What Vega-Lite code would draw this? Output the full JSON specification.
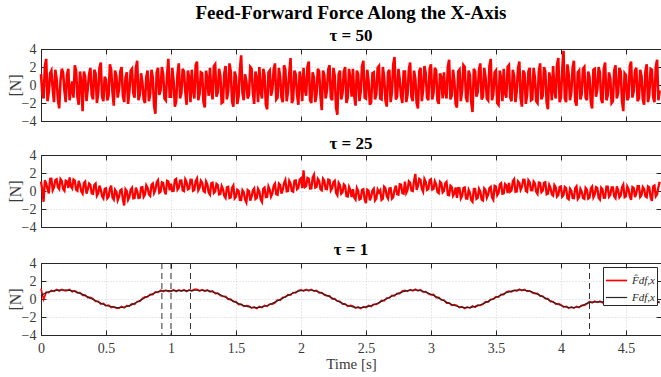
{
"$schema":"https://vega.github.io/schema/vega-lite/v6.json",
"background":"white",
"padding":{"left":6,"top":3,"right":0,"bottom":4},
"spacing":5,
"resolve":{"scale":{"color":"independent","strokeWidth":"independent"},"legend":{"color":"independent","strokeWidth":"independent"}},
"config":{
 "font":"Liberation Serif",
 "view":{"stroke":"#262626","strokeWidth":1},
 "axis":{"labelFont":"Liberation Serif","labelFontSize":14,"labelColor":"#3a3a3a","titleFont":"Liberation Serif","titleFontSize":15,"titleFontWeight":"normal","titleColor":"#3a3a3a","domainColor":"#262626","tickColor":"#262626","tickSize":-5,"gridColor":"#d0d0d0","gridDash":[1,2],"minExtent":0,"labelFlush":false},
 "axisX":{"labelPadding":11,"format":"~g"},
 "axisY":{"labelPadding":10,"titleFontSize":16,"titlePadding":-2},
 "title":{"font":"Liberation Serif","fontSize":17,"fontWeight":"bold","color":"black","offset":-3},
 "legend":{"labelFont":"Liberation Serif","labelFontStyle":"italic","labelFontSize":11,"labelColor":"#262626"}
},
"datasets":{
"ev":[{"t":0.93},{"t":1.0},{"t":1.15},{"t":4.22}],
"n":[
{"t":0,"a":1.2,"b":1.05},{"t":0.01,"a":-0.9,"b":0.07},{"t":0.02,"a":-1.5,"b":-1.2},{"t":0.03,"a":2.1,"b":1.2},{"t":0.04,"a":2.9,"b":0.81},{"t":0.05,"a":-1.8,"b":0.23},{"t":0.06,"a":-0.8,"b":-0.26},{"t":0.07,"a":1.3,"b":1.36},{"t":0.08,"a":1.6,"b":1.37},{"t":0.09,"a":-0.4,"b":0.09},{"t":0.1,"a":-1.9,"b":0.4},{"t":0.11,"a":1.7,"b":1.21},{"t":0.12,"a":0.7,"b":1.31},{"t":0.13,"a":-1.6,"b":0.42},{"t":0.14,"a":-2.6,"b":0.22},{"t":0.15,"a":0.5,"b":1.33},{"t":0.16,"a":1.8,"b":1.13},{"t":0.17,"a":1.4,"b":0.24},{"t":0.18,"a":-0.6,"b":0.04},{"t":0.19,"a":-1.9,"b":1.15},
{"t":0.2,"a":1.1,"b":1.05},{"t":0.21,"a":1.8,"b":0.34},{"t":0.22,"a":-1.7,"b":1.52},{"t":0.23,"a":-0.6,"b":0.51},{"t":0.24,"a":0.4,"b":0.29},{"t":0.25,"a":-1.4,"b":1.28},{"t":0.26,"a":2.2,"b":1.16},{"t":0.27,"a":1.6,"b":0.15},{"t":0.28,"a":-1.3,"b":0.03},{"t":0.29,"a":-2.2,"b":1.12},{"t":0.3,"a":1.5,"b":0.7},{"t":0.31,"a":0.3,"b":-0.04},{"t":0.32,"a":-2.9,"b":-0.28},{"t":0.33,"a":1.5,"b":0.88},{"t":0.34,"a":0.9,"b":1.04},{"t":0.35,"a":-1.8,"b":-0.3},{"t":0.36,"a":-0.4,"b":0.16},{"t":0.37,"a":1.2,"b":0.82},{"t":0.38,"a":1.9,"b":0.68},{"t":0.39,"a":-1.1,"b":-0.26},
{"t":0.4,"a":-1.6,"b":-0.3},{"t":0.41,"a":1.7,"b":0.66},{"t":0.42,"a":1.3,"b":0.82},{"t":0.43,"a":-2.0,"b":-0.52},{"t":0.44,"a":-0.9,"b":-0.26},{"t":0.45,"a":1.9,"b":0.6},{"t":0.46,"a":2.5,"b":0.16},{"t":0.47,"a":-1.3,"b":-0.58},{"t":0.48,"a":-1.8,"b":-0.82},{"t":0.49,"a":0.9,"b":0.24},{"t":0.5,"a":0.6,"b":0.3},{"t":0.51,"a":-1.7,"b":-0.83},{"t":0.52,"a":-1.2,"b":-0.65},{"t":0.53,"a":2.3,"b":0.23},{"t":0.54,"a":1.7,"b":0.6},{"t":0.55,"a":-0.8,"b":-0.73},{"t":0.56,"a":-2.3,"b":-0.95},{"t":0.57,"a":1.6,"b":0.13},{"t":0.58,"a":1.0,"b":-0.1},{"t":0.59,"a":-1.4,"b":-1.03},
{"t":0.6,"a":-0.5,"b":-0.65},{"t":0.61,"a":1.5,"b":0.06},{"t":0.62,"a":2.0,"b":0.17},{"t":0.63,"a":-1.2,"b":-0.92},{"t":0.64,"a":-1.9,"b":-1.6},{"t":0.65,"a":0.8,"b":0.2},{"t":0.66,"a":1.4,"b":0.01},{"t":0.67,"a":-2.1,"b":-0.98},{"t":0.68,"a":-0.7,"b":-0.67},{"t":0.69,"a":1.6,"b":0.14},{"t":0.7,"a":1.8,"b":0.35},{"t":0.71,"a":-0.9,"b":-0.82},{"t":0.72,"a":-1.4,"b":-0.78},{"t":0.73,"a":1.9,"b":0.36},{"t":0.74,"a":2.7,"b":-0.01},{"t":0.75,"a":-1.7,"b":-0.78},{"t":0.76,"a":-1.1,"b":-0.74},{"t":0.77,"a":1.3,"b":0.4},{"t":0.78,"a":0.3,"b":0.43},{"t":0.79,"a":-1.6,"b":-0.64},
{"t":0.8,"a":-2.0,"b":-0.4},{"t":0.81,"a":0.9,"b":0.64},{"t":0.82,"a":1.6,"b":0.38},{"t":0.83,"a":-1.8,"b":-0.38},{"t":0.84,"a":-1.0,"b":-0.54},{"t":0.85,"a":1.7,"b":0.7},{"t":0.86,"a":0.8,"b":0.84},{"t":0.87,"a":-2.3,"b":-0.22},{"t":0.88,"a":-3.2,"b":0.12},{"t":0.89,"a":1.4,"b":0.96},{"t":0.9,"a":1.9,"b":1.2},{"t":0.91,"a":-1.1,"b":-0.18},{"t":0.92,"a":-0.6,"b":-0.06},{"t":0.93,"a":2.0,"b":0.96},{"t":0.94,"a":1.2,"b":0.88},{"t":0.95,"a":-1.5,"b":0.0},{"t":0.96,"a":-1.7,"b":-0.38},{"t":0.97,"a":1.1,"b":1.14},{"t":0.98,"a":2.9,"b":1.06},{"t":0.99,"a":-1.3,"b":0.08},
{"t":1.0,"a":-1.3,"b":0.8},{"t":1.01,"a":1.9,"b":0.01},{"t":1.02,"a":0.5,"b":0.02},{"t":1.03,"a":-2.4,"b":1.23},{"t":1.04,"a":-1.8,"b":1.34},{"t":1.05,"a":1.2,"b":0.15},{"t":1.06,"a":2.4,"b":0.36},{"t":1.07,"a":-1.5,"b":1.17},{"t":1.08,"a":-0.9,"b":1.18},{"t":1.09,"a":1.8,"b":0.09},{"t":1.1,"a":1.5,"b":0.0},{"t":1.11,"a":-0.7,"b":1.29},{"t":1.12,"a":-2.2,"b":0.98},{"t":1.13,"a":1.6,"b":0.17},{"t":1.14,"a":0.8,"b":0.26},{"t":1.15,"a":-1.9,"b":1.25},{"t":1.16,"a":1.7,"b":1.24},{"t":1.17,"a":-0.5,"b":0.03},{"t":1.18,"a":-1.5,"b":0.12},{"t":1.19,"a":2.2,"b":1.11},
{"t":1.2,"a":2.6,"b":1.4},{"t":1.21,"a":-1.7,"b":0.08},{"t":1.22,"a":-1.0,"b":0.36},{"t":1.23,"a":1.4,"b":1.14},{"t":1.24,"a":1.3,"b":0.92},{"t":1.25,"a":-1.9,"b":0.0},{"t":1.26,"a":-2.5,"b":-0.12},{"t":1.27,"a":1.6,"b":1.06},{"t":1.28,"a":0.6,"b":0.74},{"t":1.29,"a":-1.2,"b":-0.18},{"t":1.3,"a":1.9,"b":-0.4},{"t":1.31,"a":-0.6,"b":0.86},{"t":1.32,"a":-1.6,"b":0.92},{"t":1.33,"a":2.1,"b":-0.22},{"t":1.34,"a":2.3,"b":-0.06},{"t":1.35,"a":-1.3,"b":0.8},{"t":1.36,"a":-0.8,"b":0.66},{"t":1.37,"a":1.8,"b":-0.38},{"t":1.38,"a":1.0,"b":-0.32},{"t":1.39,"a":-2.0,"b":0.54},
{"t":1.4,"a":-1.9,"b":0.2},{"t":1.41,"a":1.3,"b":-0.54},{"t":1.42,"a":2.1,"b":-0.77},{"t":1.43,"a":-1.6,"b":0.4},{"t":1.44,"a":-0.7,"b":0.46},{"t":1.45,"a":2.4,"b":-0.78},{"t":1.46,"a":1.5,"b":-0.71},{"t":1.47,"a":-1.8,"b":0.36},{"t":1.48,"a":-2.4,"b":0.62},{"t":1.49,"a":1.5,"b":-0.82},{"t":1.5,"a":0.9,"b":-0.65},{"t":1.51,"a":-2.1,"b":0.14},{"t":1.52,"a":-1.3,"b":0.02},{"t":1.53,"a":1.7,"b":-1.0},{"t":1.54,"a":3.3,"b":-1.01},{"t":1.55,"a":-0.9,"b":0.08},{"t":1.56,"a":-1.7,"b":-0.14},{"t":1.57,"a":1.2,"b":-0.96},{"t":1.58,"a":0.4,"b":-1.27},{"t":1.59,"a":-1.5,"b":0.12},
{"t":1.6,"a":-1.1,"b":0.0},{"t":1.61,"a":2.0,"b":-1.08},{"t":1.62,"a":1.8,"b":-0.66},{"t":1.63,"a":-0.8,"b":0.06},{"t":1.64,"a":-2.1,"b":0.28},{"t":1.65,"a":1.5,"b":-0.9},{"t":1.66,"a":0.7,"b":-0.78},{"t":1.67,"a":-1.9,"b":0.24},{"t":1.68,"a":2.0,"b":-0.04},{"t":1.69,"a":-0.7,"b":-0.92},{"t":1.7,"a":-1.5,"b":-1.2},{"t":1.71,"a":1.8,"b":0.24},{"t":1.72,"a":1.1,"b":0.38},{"t":1.73,"a":-2.2,"b":-0.68},{"t":1.74,"a":-2.7,"b":-0.64},{"t":1.75,"a":1.4,"b":0.5},{"t":1.76,"a":1.6,"b":0.14},{"t":1.77,"a":-1.2,"b":-0.62},{"t":1.78,"a":-0.5,"b":-0.28},{"t":1.79,"a":1.7,"b":0.56},
{"t":1.8,"a":2.4,"b":0.8},{"t":1.81,"a":-1.6,"b":-0.36},{"t":1.82,"a":-1.4,"b":-0.42},{"t":1.83,"a":1.9,"b":0.82},{"t":1.84,"a":0.9,"b":0.66},{"t":1.85,"a":-1.4,"b":-0.3},{"t":1.86,"a":-1.9,"b":0.14},{"t":1.87,"a":2.2,"b":0.88},{"t":1.88,"a":1.7,"b":1.22},{"t":1.89,"a":-1.8,"b":-0.04},{"t":1.9,"a":-0.8,"b":0.0},{"t":1.91,"a":1.3,"b":1.13},{"t":1.92,"a":3.0,"b":0.86},{"t":1.93,"a":-2.0,"b":-0.01},{"t":1.94,"a":-1.6,"b":-0.08},{"t":1.95,"a":1.6,"b":1.15},{"t":1.96,"a":1.2,"b":1.18},{"t":1.97,"a":-1.1,"b":0.21},{"t":1.98,"a":-2.2,"b":0.34},{"t":1.99,"a":1.5,"b":1.27},
{"t":2.0,"a":0.6,"b":1.4},{"t":2.01,"a":-1.8,"b":0.31},{"t":2.02,"a":1.9,"b":2.3},{"t":2.03,"a":-0.5,"b":0.43},{"t":2.04,"a":-1.2,"b":0.54},{"t":2.05,"a":2.0,"b":1.45},{"t":2.06,"a":2.6,"b":1.36},{"t":2.07,"a":-1.7,"b":0.27},{"t":2.08,"a":-2.0,"b":0.28},{"t":2.09,"a":1.4,"b":1.49},{"t":2.1,"a":0.8,"b":1.8},{"t":2.11,"a":-1.9,"b":0.38},{"t":2.12,"a":-1.0,"b":0.46},{"t":2.13,"a":1.8,"b":1.34},{"t":2.14,"a":1.5,"b":1.12},{"t":2.15,"a":-1.2,"b":0.2},{"t":2.16,"a":-2.8,"b":0.08},{"t":2.17,"a":1.6,"b":1.36},{"t":2.18,"a":1.1,"b":1.14},{"t":2.19,"a":-1.5,"b":0.22},
{"t":2.2,"a":-0.6,"b":0.2},{"t":2.21,"a":1.7,"b":1.26},{"t":2.22,"a":2.2,"b":1.21},{"t":2.23,"a":-1.4,"b":0.07},{"t":2.24,"a":-1.7,"b":0.32},{"t":2.25,"a":1.9,"b":0.98},{"t":2.26,"a":1.0,"b":1.13},{"t":2.27,"a":-2.5,"b":-0.22},{"t":2.28,"a":-3.3,"b":-0.46},{"t":2.29,"a":1.2,"b":0.9},{"t":2.3,"a":1.6,"b":0.65},{"t":2.31,"a":-1.6,"b":-0.3},{"t":2.32,"a":-0.9,"b":-0.14},{"t":2.33,"a":1.5,"b":0.72},{"t":2.34,"a":2.0,"b":0.57},{"t":2.35,"a":-2.0,"b":-0.58},{"t":2.36,"a":-1.4,"b":-0.62},{"t":2.37,"a":1.8,"b":0.44},{"t":2.38,"a":0.7,"b":0.09},{"t":2.39,"a":-1.3,"b":-0.66},
{"t":2.4,"a":1.8,"b":0.2},{"t":2.41,"a":-1.2,"b":-0.73},{"t":2.42,"a":-2.3,"b":-0.95},{"t":2.43,"a":1.6,"b":0.33},{"t":2.44,"a":1.2,"b":0.0},{"t":2.45,"a":-1.8,"b":-0.93},{"t":2.46,"a":-0.7,"b":-0.85},{"t":2.47,"a":2.1,"b":0.13},{"t":2.48,"a":2.7,"b":0.2},{"t":2.49,"a":-1.4,"b":-0.93},{"t":2.5,"a":-1.5,"b":-1.35},{"t":2.51,"a":1.7,"b":0.15},{"t":2.52,"a":0.5,"b":0.05},{"t":2.53,"a":-2.2,"b":-1.05},{"t":2.54,"a":-1.9,"b":-0.65},{"t":2.55,"a":1.3,"b":0.05},{"t":2.56,"a":1.4,"b":0.25},{"t":2.57,"a":-1.6,"b":-1.05},{"t":2.58,"a":-1.0,"b":-0.85},{"t":2.59,"a":1.9,"b":0.15},
{"t":2.6,"a":2.1,"b":-0.15},{"t":2.61,"a":-1.5,"b":0.08},{"t":2.62,"a":-1.6,"b":-0.99},{"t":2.63,"a":2.0,"b":-0.86},{"t":2.64,"a":0.9,"b":0.47},{"t":2.65,"a":-1.7,"b":0.3},{"t":2.66,"a":-2.4,"b":-0.57},{"t":2.67,"a":1.4,"b":-0.84},{"t":2.68,"a":1.7,"b":0.29},{"t":2.69,"a":-1.9,"b":0.32},{"t":2.7,"a":-0.8,"b":-0.85},{"t":2.71,"a":2.3,"b":-0.7},{"t":2.72,"a":3.1,"b":0.15},{"t":2.73,"a":-1.6,"b":0.6},{"t":2.74,"a":-1.3,"b":-0.35},{"t":2.75,"a":1.8,"b":-0.4},{"t":2.76,"a":0.6,"b":0.75},{"t":2.77,"a":-1.2,"b":0.7},{"t":2.78,"a":-2.0,"b":-0.25},{"t":2.79,"a":1.5,"b":-0.3},
{"t":2.8,"a":1.5,"b":1.05},{"t":2.81,"a":-1.9,"b":-0.21},{"t":2.82,"a":-1.1,"b":0.13},{"t":2.83,"a":1.7,"b":1.07},{"t":2.84,"a":2.5,"b":0.91},{"t":2.85,"a":-1.3,"b":0.05},{"t":2.86,"a":-1.8,"b":-0.01},{"t":2.87,"a":1.6,"b":1.13},{"t":2.88,"a":0.7,"b":1.9},{"t":2.89,"a":-2.0,"b":0.11},{"t":2.9,"a":-2.6,"b":0.55},{"t":2.91,"a":1.5,"b":1.35},{"t":2.92,"a":1.9,"b":1.24},{"t":2.93,"a":-1.8,"b":0.24},{"t":2.94,"a":-0.5,"b":-0.07},{"t":2.95,"a":2.1,"b":1.33},{"t":2.96,"a":1.3,"b":1.02},{"t":2.97,"a":-1.4,"b":0.12},{"t":2.98,"a":-1.7,"b":0.21},{"t":2.99,"a":1.8,"b":1.21},
{"t":3.0,"a":2.3,"b":1.3},{"t":3.01,"a":-1.6,"b":0.16},{"t":3.02,"a":-0.9,"b":0.22},{"t":3.03,"a":1.9,"b":1.08},{"t":3.04,"a":1.6,"b":0.74},{"t":3.05,"a":-1.7,"b":-0.1},{"t":3.06,"a":-2.1,"b":-0.24},{"t":3.07,"a":1.3,"b":1.02},{"t":3.08,"a":0.8,"b":0.88},{"t":3.09,"a":-1.5,"b":-0.16},{"t":3.1,"a":1.4,"b":0.0},{"t":3.11,"a":-0.8,"b":0.86},{"t":3.12,"a":-1.5,"b":1.01},{"t":3.13,"a":2.0,"b":-0.44},{"t":3.14,"a":2.8,"b":-0.48},{"t":3.15,"a":-1.6,"b":0.58},{"t":3.16,"a":-1.2,"b":0.43},{"t":3.17,"a":1.7,"b":-0.52},{"t":3.18,"a":0.5,"b":-0.26},{"t":3.19,"a":-2.1,"b":0.4},
{"t":3.2,"a":-2.5,"b":-0.75},{"t":3.21,"a":1.5,"b":0.33},{"t":3.22,"a":1.7,"b":0.3},{"t":3.23,"a":-1.8,"b":-0.83},{"t":3.24,"a":-0.6,"b":-0.55},{"t":3.25,"a":2.2,"b":0.33},{"t":3.26,"a":2.0,"b":0.4},{"t":3.27,"a":-1.4,"b":-0.83},{"t":3.28,"a":-1.9,"b":-0.85},{"t":3.29,"a":1.6,"b":0.13},{"t":3.3,"a":1.1,"b":-0.2},{"t":3.31,"a":-1.9,"b":-1.0},{"t":3.32,"a":-3.0,"b":-1.19},{"t":3.33,"a":1.8,"b":0.22},{"t":3.34,"a":1.5,"b":0.22},{"t":3.35,"a":-1.3,"b":-0.88},{"t":3.36,"a":-0.8,"b":-0.77},{"t":3.37,"a":1.7,"b":0.24},{"t":3.38,"a":2.4,"b":-0.06},{"t":3.39,"a":-1.6,"b":-0.96},
{"t":3.4,"a":-1.3,"b":-1.05},{"t":3.41,"a":1.9,"b":0.29},{"t":3.42,"a":0.9,"b":0.12},{"t":3.43,"a":-1.5,"b":-0.75},{"t":3.44,"a":-1.7,"b":-0.41},{"t":3.45,"a":2.1,"b":0.33},{"t":3.46,"a":2.9,"b":0.46},{"t":3.47,"a":-1.7,"b":-0.71},{"t":3.48,"a":-1.0,"b":-0.97},{"t":3.49,"a":1.4,"b":0.57},{"t":3.5,"a":1.6,"b":0.5},{"t":3.51,"a":-2.0,"b":-0.46},{"t":3.52,"a":-2.2,"b":-0.22},{"t":3.53,"a":1.6,"b":0.72},{"t":3.54,"a":0.7,"b":0.86},{"t":3.55,"a":-1.8,"b":-0.3},{"t":3.56,"a":1.8,"b":-0.26},{"t":3.57,"a":-0.9,"b":0.78},{"t":3.58,"a":-1.4,"b":0.62},{"t":3.59,"a":2.0,"b":-0.24},
{"t":3.6,"a":2.2,"b":0.9},{"t":3.61,"a":-1.4,"b":-0.08},{"t":3.62,"a":-1.8,"b":0.05},{"t":3.63,"a":1.7,"b":1.08},{"t":3.64,"a":1.0,"b":1.3},{"t":3.65,"a":-1.9,"b":-0.08},{"t":3.66,"a":-0.7,"b":-0.05},{"t":3.67,"a":1.8,"b":1.08},{"t":3.68,"a":2.6,"b":0.9},{"t":3.69,"a":-1.5,"b":0.13},{"t":3.7,"a":-2.4,"b":0.45},{"t":3.71,"a":1.6,"b":1.24},{"t":3.72,"a":1.3,"b":1.23},{"t":3.73,"a":-2.1,"b":0.02},{"t":3.74,"a":-1.1,"b":-0.09},{"t":3.75,"a":1.5,"b":1.2},{"t":3.76,"a":1.9,"b":0.99},{"t":3.77,"a":-1.7,"b":0.08},{"t":3.78,"a":-1.6,"b":0.07},{"t":3.79,"a":1.9,"b":1.06},
{"t":3.8,"a":0.8,"b":0.85},{"t":3.81,"a":-1.8,"b":-0.09},{"t":3.82,"a":-2.0,"b":-0.32},{"t":3.83,"a":1.5,"b":0.95},{"t":3.84,"a":2.4,"b":0.91},{"t":3.85,"a":-1.6,"b":-0.13},{"t":3.86,"a":-1.2,"b":0.04},{"t":3.87,"a":2.0,"b":0.91},{"t":3.88,"a":1.5,"b":0.97},{"t":3.89,"a":-1.9,"b":-0.37},{"t":3.9,"a":-2.7,"b":-0.3},{"t":3.91,"a":1.4,"b":0.67},{"t":3.92,"a":0.6,"b":0.34},{"t":3.93,"a":-1.7,"b":-0.39},{"t":3.94,"a":2.1,"b":-0.52},{"t":3.95,"a":-0.6,"b":0.65},{"t":3.96,"a":-1.5,"b":0.42},{"t":3.97,"a":2.2,"b":-0.61},{"t":3.98,"a":3.0,"b":-0.44},{"t":3.99,"a":-1.9,"b":0.43},
{"t":4.0,"a":-1.4,"b":0.5},{"t":4.01,"a":1.6,"b":-0.62},{"t":4.02,"a":3.8,"b":-0.44},{"t":4.03,"a":-1.5,"b":0.44},{"t":4.04,"a":-1.9,"b":0.32},{"t":4.05,"a":2.3,"b":-0.8},{"t":4.06,"a":1.2,"b":-0.92},{"t":4.07,"a":-1.7,"b":0.26},{"t":4.08,"a":-0.8,"b":0.04},{"t":4.09,"a":1.9,"b":-0.78},{"t":4.1,"a":2.7,"b":-0.8},{"t":4.11,"a":-1.8,"b":0.31},{"t":4.12,"a":-2.3,"b":0.51},{"t":4.13,"a":1.4,"b":-0.89},{"t":4.14,"a":1.6,"b":-0.68},{"t":4.15,"a":-1.6,"b":0.23},{"t":4.16,"a":-1.0,"b":-0.07},{"t":4.17,"a":1.8,"b":-0.77},{"t":4.18,"a":2.0,"b":-0.86},{"t":4.19,"a":-1.4,"b":0.35},
{"t":4.2,"a":-1.7,"b":0.15},{"t":4.21,"a":1.5,"b":-0.84},{"t":4.22,"a":0.9,"b":-0.73},{"t":4.23,"a":-1.9,"b":0.28},{"t":4.24,"a":-2.6,"b":0.49},{"t":4.25,"a":1.7,"b":-0.7},{"t":4.26,"a":1.8,"b":-0.39},{"t":4.27,"a":-1.3,"b":0.42},{"t":4.28,"a":-0.5,"b":0.33},{"t":4.29,"a":2.0,"b":-0.76},{"t":4.3,"a":1.4,"b":-0.95},{"t":4.31,"a":-1.6,"b":0.36},{"t":4.32,"a":-2.0,"b":0.16},{"t":4.33,"a":1.8,"b":-0.74},{"t":4.34,"a":2.5,"b":-0.73},{"t":4.35,"a":-1.7,"b":0.48},{"t":4.36,"a":-1.2,"b":0.48},{"t":4.37,"a":1.4,"b":-0.62},{"t":4.38,"a":0.7,"b":-0.41},{"t":4.39,"a":-2.0,"b":0.4},
{"t":4.4,"a":-1.8,"b":0.4},{"t":4.41,"a":1.6,"b":-0.6},{"t":4.42,"a":2.2,"b":-0.8},{"t":4.43,"a":-1.5,"b":0.5},{"t":4.44,"a":-0.9,"b":0.1},{"t":4.45,"a":1.9,"b":-0.7},{"t":4.46,"a":1.5,"b":-0.5},{"t":4.47,"a":-1.8,"b":0.4},{"t":4.48,"a":-2.9,"b":0.7},{"t":4.49,"a":1.3,"b":-0.7},{"t":4.5,"a":1.1,"b":-0.6},{"t":4.51,"a":-1.7,"b":0.51},{"t":4.52,"a":-1.4,"b":0.21},{"t":4.53,"a":2.1,"b":-0.59},{"t":4.54,"a":2.6,"b":-0.98},{"t":4.55,"a":-1.4,"b":0.43},{"t":4.56,"a":-0.7,"b":0.33},{"t":4.57,"a":1.6,"b":-0.67},{"t":4.58,"a":1.9,"b":-0.26},{"t":4.59,"a":-1.8,"b":0.55},
{"t":4.6,"a":-1.5,"b":0.55},{"t":4.61,"a":1.7,"b":-0.66},{"t":4.62,"a":1.0,"b":-0.46},{"t":4.63,"a":-1.6,"b":0.44},{"t":4.64,"a":-2.2,"b":0.23},{"t":4.65,"a":1.5,"b":-0.58},{"t":4.66,"a":2.3,"b":-0.68},{"t":4.67,"a":-1.9,"b":0.52},{"t":4.68,"a":-1.1,"b":0.41},{"t":4.69,"a":1.8,"b":-0.7},{"t":4.7,"a":1.7,"b":-1.1},{"t":4.71,"a":-1.4,"b":0.51},{"t":4.72,"a":-1.9,"b":0.61},{"t":4.73,"a":2.0,"b":-0.59},{"t":4.74,"a":2.8,"b":-0.38},{"t":4.75,"a":-1.7,"b":0.43},{"t":4.76,"a":-0.6,"b":1.03}
],
"s":[
{"t":0,"c":1.15,"d":0.3},{"t":0.02,"c":-0.05,"d":0.55},{"t":0.04,"c":0.76,"d":0.7},{"t":0.06,"c":0.7,"d":0.8},{"t":0.08,"c":0.95,"d":0.87},{"t":0.1,"c":0.86,"d":0.92},{"t":0.12,"c":1.06,"d":0.96},{"t":0.14,"c":0.89,"d":0.98},{"t":0.16,"c":1.05,"d":1.0},{"t":0.18,"c":0.92,"d":1.0},
{"t":0.2,"c":0.93,"d":0.99},{"t":0.22,"c":1.06,"d":0.96},{"t":0.24,"c":0.81,"d":0.9},{"t":0.26,"c":0.91,"d":0.83},{"t":0.28,"c":0.69,"d":0.74},{"t":0.3,"c":0.72,"d":0.63},{"t":0.32,"c":0.41,"d":0.51},{"t":0.34,"c":0.44,"d":0.38},{"t":0.36,"c":0.16,"d":0.24},{"t":0.38,"c":0.19,"d":0.1},
{"t":0.4,"c":0.04,"d":-0.05},{"t":0.42,"c":-0.27,"d":-0.19},{"t":0.44,"c":-0.27,"d":-0.33},{"t":0.46,"c":-0.56,"d":-0.46},{"t":0.48,"c":-0.5,"d":-0.58},{"t":0.5,"c":-0.75,"d":-0.69},{"t":0.52,"c":-0.68,"d":-0.78},{"t":0.54,"c":-0.94,"d":-0.85},{"t":0.56,"c":-0.86,"d":-0.91},{"t":0.58,"c":-1.02,"d":-0.94},
{"t":0.6,"c":-1.01,"d":-0.95},{"t":0.62,"c":-0.84,"d":-0.94},{"t":0.64,"c":-0.98,"d":-0.89},{"t":0.66,"c":-0.75,"d":-0.83},{"t":0.68,"c":-0.78,"d":-0.73},{"t":0.7,"c":-0.53,"d":-0.62},{"t":0.72,"c":-0.58,"d":-0.48},{"t":0.74,"c":-0.28,"d":-0.34},{"t":0.76,"c":-0.26,"d":-0.18},{"t":0.78,"c":0.07,"d":-0.02},
{"t":0.8,"c":0.24,"d":0.15},{"t":0.82,"c":0.23,"d":0.31},{"t":0.84,"c":0.51,"d":0.45},{"t":0.86,"c":0.49,"d":0.59},{"t":0.88,"c":0.78,"d":0.7},{"t":0.9,"c":0.74,"d":0.8},{"t":0.92,"c":0.96,"d":0.86},{"t":0.94,"c":0.82,"d":0.91},{"t":0.96,"c":0.97,"d":0.92},{"t":0.98,"c":0.84,"d":0.92},
{"t":1.0,"c":0.85,"d":0.91},{"t":1.02,"c":1.02,"d":0.92},{"t":1.04,"c":0.83,"d":0.92},{"t":1.06,"c":1.01,"d":0.93},{"t":1.08,"c":0.88,"d":0.93},{"t":1.1,"c":1.02,"d":0.93},{"t":1.12,"c":0.84,"d":0.94},{"t":1.14,"c":1.01,"d":0.95},{"t":1.16,"c":0.88,"d":0.96},{"t":1.18,"c":1.06,"d":0.97},
{"t":1.2,"c":1.06,"d":0.97},{"t":1.22,"c":0.89,"d":0.97},{"t":1.24,"c":1.03,"d":0.97},{"t":1.26,"c":0.86,"d":0.96},{"t":1.28,"c":1.01,"d":0.93},{"t":1.3,"c":0.81,"d":0.87},{"t":1.32,"c":0.9,"d":0.8},{"t":1.34,"c":0.61,"d":0.7},{"t":1.36,"c":0.65,"d":0.6},{"t":1.38,"c":0.39,"d":0.47},
{"t":1.4,"c":0.28,"d":0.34},{"t":1.42,"c":0.29,"d":0.19},{"t":1.44,"c":-0.04,"d":0.05},{"t":1.46,"c":-0.02,"d":-0.1},{"t":1.48,"c":-0.29,"d":-0.24},{"t":1.5,"c":-0.29,"d":-0.38},{"t":1.52,"c":-0.61,"d":-0.51},{"t":1.54,"c":-0.57,"d":-0.63},{"t":1.56,"c":-0.81,"d":-0.73},{"t":1.58,"c":-0.73,"d":-0.82},
{"t":1.6,"c":-0.79,"d":-0.88},{"t":1.62,"c":-1.01,"d":-0.93},{"t":1.64,"c":-0.89,"d":-0.95},{"t":1.66,"c":-1.05,"d":-0.95},{"t":1.68,"c":-0.84,"d":-0.92},{"t":1.7,"c":-0.94,"d":-0.88},{"t":1.72,"c":-0.71,"d":-0.81},{"t":1.74,"c":-0.81,"d":-0.72},{"t":1.76,"c":-0.56,"d":-0.61},{"t":1.78,"c":-0.56,"d":-0.48},
{"t":1.8,"c":-0.41,"d":-0.35},{"t":1.82,"c":-0.1,"d":-0.2},{"t":1.84,"c":-0.14,"d":-0.05},{"t":1.86,"c":0.18,"d":0.1},{"t":1.88,"c":0.2,"d":0.25},{"t":1.9,"c":0.49,"d":0.4},{"t":1.92,"c":0.43,"d":0.53},{"t":1.94,"c":0.72,"d":0.66},{"t":1.96,"c":0.69,"d":0.77},{"t":1.98,"c":0.95,"d":0.86},
{"t":2.0,"c":1.02,"d":0.93},{"t":2.02,"c":0.89,"d":0.97},{"t":2.04,"c":1.06,"d":1.0},{"t":2.06,"c":0.9,"d":1.0},{"t":2.08,"c":1.05,"d":0.97},{"t":2.1,"c":0.87,"d":0.93},{"t":2.12,"c":0.96,"d":0.86},{"t":2.14,"c":0.68,"d":0.77},{"t":2.16,"c":0.71,"d":0.66},{"t":2.18,"c":0.45,"d":0.53},
{"t":2.2,"c":0.34,"d":0.4},{"t":2.22,"c":0.35,"d":0.25},{"t":2.24,"c":0.01,"d":0.1},{"t":2.26,"c":0.03,"d":-0.05},{"t":2.28,"c":-0.25,"d":-0.2},{"t":2.3,"c":-0.26,"d":-0.35},{"t":2.32,"c":-0.58,"d":-0.48},{"t":2.34,"c":-0.55,"d":-0.61},{"t":2.36,"c":-0.8,"d":-0.72},{"t":2.38,"c":-0.72,"d":-0.81},
{"t":2.4,"c":-0.79,"d":-0.88},{"t":2.42,"c":-1.0,"d":-0.92},{"t":2.44,"c":-0.89,"d":-0.95},{"t":2.46,"c":-1.05,"d":-0.95},{"t":2.48,"c":-0.85,"d":-0.93},{"t":2.5,"c":-0.94,"d":-0.88},{"t":2.52,"c":-0.72,"d":-0.82},{"t":2.54,"c":-0.83,"d":-0.74},{"t":2.56,"c":-0.59,"d":-0.64},{"t":2.58,"c":-0.6,"d":-0.52},
{"t":2.6,"c":-0.46,"d":-0.4},{"t":2.62,"c":-0.16,"d":-0.26},{"t":2.64,"c":-0.21,"d":-0.12},{"t":2.66,"c":0.11,"d":0.03},{"t":2.68,"c":0.12,"d":0.17},{"t":2.7,"c":0.4,"d":0.31},{"t":2.72,"c":0.35,"d":0.45},{"t":2.74,"c":0.63,"d":0.57},{"t":2.76,"c":0.61,"d":0.69},{"t":2.78,"c":0.88,"d":0.79},
{"t":2.8,"c":0.96,"d":0.87},{"t":2.82,"c":0.85,"d":0.93},{"t":2.84,"c":1.04,"d":0.98},{"t":2.86,"c":0.9,"d":1.0},{"t":2.88,"c":1.08,"d":1.0},{"t":2.9,"c":0.91,"d":0.97},{"t":2.92,"c":1.03,"d":0.93},{"t":2.94,"c":0.77,"d":0.86},{"t":2.96,"c":0.82,"d":0.77},{"t":2.98,"c":0.58,"d":0.66},
{"t":3.0,"c":0.47,"d":0.53},{"t":3.02,"c":0.5,"d":0.4},{"t":3.04,"c":0.16,"d":0.25},{"t":3.06,"c":0.18,"d":0.1},{"t":3.08,"c":-0.1,"d":-0.05},{"t":3.1,"c":-0.11,"d":-0.2},{"t":3.12,"c":-0.45,"d":-0.35},{"t":3.14,"c":-0.42,"d":-0.48},{"t":3.16,"c":-0.69,"d":-0.61},{"t":3.18,"c":-0.63,"d":-0.72},
{"t":3.2,"c":-0.72,"d":-0.81},{"t":3.22,"c":-0.96,"d":-0.88},{"t":3.24,"c":-0.86,"d":-0.92},{"t":3.26,"c":-1.05,"d":-0.95},{"t":3.28,"c":-0.87,"d":-0.95},{"t":3.3,"c":-0.99,"d":-0.93},{"t":3.32,"c":-0.78,"d":-0.88},{"t":3.34,"c":-0.91,"d":-0.82},{"t":3.36,"c":-0.69,"d":-0.74},{"t":3.38,"c":-0.72,"d":-0.64},
{"t":3.4,"c":-0.58,"d":-0.52},{"t":3.42,"c":-0.3,"d":-0.4},{"t":3.44,"c":-0.35,"d":-0.26},{"t":3.46,"c":-0.04,"d":-0.12},{"t":3.48,"c":-0.02,"d":0.03},{"t":3.5,"c":0.26,"d":0.17},{"t":3.52,"c":0.21,"d":0.31},{"t":3.54,"c":0.51,"d":0.45},{"t":3.56,"c":0.49,"d":0.57},{"t":3.58,"c":0.78,"d":0.69},
{"t":3.6,"c":0.88,"d":0.79},{"t":3.62,"c":0.79,"d":0.87},{"t":3.64,"c":0.99,"d":0.93},{"t":3.66,"c":0.88,"d":0.98},{"t":3.68,"c":1.08,"d":1.0},{"t":3.7,"c":0.94,"d":1.0},{"t":3.72,"c":1.07,"d":0.97},{"t":3.74,"c":0.84,"d":0.93},{"t":3.76,"c":0.91,"d":0.86},{"t":3.78,"c":0.69,"d":0.77},
{"t":3.8,"c":0.6,"d":0.66},{"t":3.82,"c":0.63,"d":0.53},{"t":3.84,"c":0.31,"d":0.4},{"t":3.86,"c":0.33,"d":0.25},{"t":3.88,"c":0.05,"d":0.1},{"t":3.9,"c":0.04,"d":-0.05},{"t":3.92,"c":-0.3,"d":-0.2},{"t":3.94,"c":-0.29,"d":-0.35},{"t":3.96,"c":-0.56,"d":-0.48},{"t":3.98,"c":-0.52,"d":-0.61},
{"t":4.0,"c":-0.63,"d":-0.72},{"t":4.02,"c":-0.89,"d":-0.81},{"t":4.04,"c":-0.82,"d":-0.88},{"t":4.06,"c":-1.02,"d":-0.92},{"t":4.08,"c":-0.87,"d":-0.95},{"t":4.1,"c":-1.01,"d":-0.95},{"t":4.12,"c":-0.82,"d":-0.92},{"t":4.14,"c":-0.95,"d":-0.86},{"t":4.16,"c":-0.71,"d":-0.76},{"t":4.18,"c":-0.7,"d":-0.62},
{"t":4.2,"c":-0.54,"d":-0.48},{"t":4.22,"c":-0.28,"d":-0.38},{"t":4.24,"c":-0.43,"d":-0.34},{"t":4.26,"c":-0.25,"d":-0.33},{"t":4.28,"c":-0.38,"d":-0.33},{"t":4.3,"c":-0.24,"d":-0.33},{"t":4.32,"c":-0.43,"d":-0.33},{"t":4.34,"c":-0.27,"d":-0.33},{"t":4.36,"c":-0.41,"d":-0.33},{"t":4.38,"c":-0.24,"d":-0.33},
{"t":4.4,"c":-0.24,"d":-0.33},{"t":4.42,"c":-0.42,"d":-0.34},{"t":4.44,"c":-0.27,"d":-0.33},{"t":4.46,"c":-0.42,"d":-0.32},{"t":4.48,"c":-0.25,"d":-0.33},{"t":4.5,"c":-0.4,"d":-0.34},{"t":4.52,"c":-0.23,"d":-0.33},{"t":4.54,"c":-0.42,"d":-0.33},{"t":4.56,"c":-0.27,"d":-0.32},{"t":4.58,"c":-0.41,"d":-0.33},
{"t":4.6,"c":-0.39,"d":-0.33},{"t":4.62,"c":-0.23,"d":-0.33},{"t":4.64,"c":-0.43,"d":-0.34},{"t":4.66,"c":-0.25,"d":-0.33},{"t":4.68,"c":-0.37,"d":-0.32},{"t":4.7,"c":-0.24,"d":-0.33},{"t":4.72,"c":-0.43,"d":-0.33},{"t":4.74,"c":-0.28,"d":-0.34},{"t":4.76,"c":-0.41,"d":-0.33}
]},
"vconcat":[
{"title":{"text":"Feed-Forward Force Along the X-Axis","subtitle":"τ = 50","fontSize":19,"subtitleFont":"Liberation Serif","subtitleFontSize":17,"subtitleFontWeight":"bold","subtitleColor":"black","subtitlePadding":5,"offset":-2},
 "width":620,"height":72,
 "data":{"name":"n"},
 "layer":[
  {"mark":{"type":"line","color":"#ff0000","strokeWidth":2.6},
   "encoding":{"x":{"field":"t","type":"quantitative","scale":{"domain":[0,4.77],"nice":false,"zero":false},"axis":{"values":[0,0.5,1,1.5,2,2.5,3,3.5,4,4.5],"labels":false,"title":null}},
   "y":{"field":"a","type":"quantitative","scale":{"domain":[-4,4],"nice":false},"axis":{"values":[-4,-2,0,2,4],"title":"[N]"}}}},
  {"mark":{"type":"line","opacity":0},
   "encoding":{"x":{"field":"t","type":"quantitative","axis":{"orient":"top","values":[0,0.5,1,1.5,2,2.5,3,3.5,4,4.5],"labels":false,"grid":false,"domain":true,"zindex":1,"title":null}},
   "y":{"field":"a","type":"quantitative","axis":{"orient":"right","values":[-4,-2,0,2,4],"labels":false,"grid":false,"domain":false,"title":null}}}}
 ],
 "resolve":{"axis":{"x":"independent","y":"independent"}}
},
{"title":{"text":"τ = 25","offset":-5},
 "width":620,"height":72,
 "data":{"name":"n"},
 "layer":[
  {"mark":{"type":"line","color":"#ff0000","strokeWidth":2.3},
   "encoding":{"x":{"field":"t","type":"quantitative","scale":{"domain":[0,4.77],"nice":false,"zero":false},"axis":{"values":[0,0.5,1,1.5,2,2.5,3,3.5,4,4.5],"labels":false,"title":null}},
   "y":{"field":"b","type":"quantitative","scale":{"domain":[-4,4],"nice":false},"axis":{"values":[-4,-2,0,2,4],"title":"[N]"}}}},
  {"mark":{"type":"line","opacity":0},
   "encoding":{"x":{"field":"t","type":"quantitative","axis":{"orient":"top","values":[0,0.5,1,1.5,2,2.5,3,3.5,4,4.5],"labels":false,"grid":false,"domain":true,"zindex":1,"title":null}},
   "y":{"field":"b","type":"quantitative","axis":{"orient":"right","values":[-4,-2,0,2,4],"labels":false,"grid":false,"domain":false,"title":null}}}}
 ],
 "resolve":{"axis":{"x":"independent","y":"independent"}}
},
{"title":{"text":"τ = 1","offset":-3},
 "width":620,"height":72,
 "layer":[
  {"data":{"name":"s"},
   "transform":[{"fold":["c","d"],"as":["k","v"]}],
   "mark":{"type":"line"},
   "encoding":{"x":{"field":"t","type":"quantitative","scale":{"domain":[0,4.77],"nice":false,"zero":false},"axis":{"values":[0,0.5,1,1.5,2,2.5,3,3.5,4,4.5],"title":"Time [s]","titlePadding":1}},
   "y":{"field":"v","type":"quantitative","scale":{"domain":[-4,4],"nice":false},"axis":{"values":[-4,-2,0,2,4],"title":"[N]"}},
   "color":{"field":"k","type":"nominal","scale":{"domain":["c","d"],"range":["#ff0000","#262626"]},"legend":{"title":null,"orient":"top-right","offset":4,"symbolType":"stroke","symbolSize":450,"symbolStrokeWidth":2,"strokeColor":"#262626","fillColor":"white","padding":2,"rowPadding":0,"labelExpr":"datum.label == 'c' ? 'F̂df,x' : 'Fdf,x'"}},
   "strokeWidth":{"field":"k","type":"nominal","scale":{"domain":["c","d"],"range":[1.7,1.2]},"legend":null}}},
  {"data":{"name":"ev"},
   "mark":{"type":"rule","color":"#333333","strokeDash":[6,4],"strokeWidth":1},
   "encoding":{"x":{"field":"t","type":"quantitative","axis":null}}},
  {"data":{"name":"s"},
   "mark":{"type":"line","opacity":0},
   "encoding":{"x":{"field":"t","type":"quantitative","axis":{"orient":"top","values":[0,0.5,1,1.5,2,2.5,3,3.5,4,4.5],"labels":false,"grid":false,"domain":true,"zindex":1,"title":null}},
   "y":{"field":"d","type":"quantitative","axis":{"orient":"right","values":[-4,-2,0,2,4],"labels":false,"grid":false,"domain":false,"title":null}}}}
 ],
 "resolve":{"axis":{"x":"independent","y":"independent"}}
}
]
}
